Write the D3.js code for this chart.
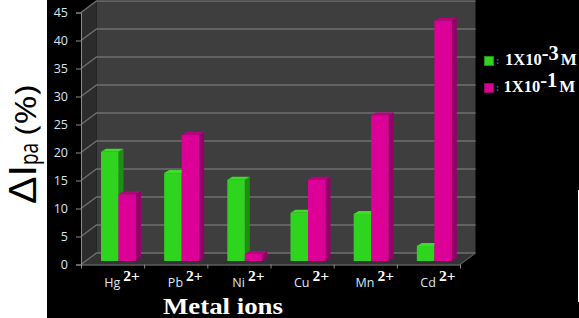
<!DOCTYPE html>
<html><head><meta charset="utf-8">
<script src="https://cdn.jsdelivr.net/npm/d3@7/dist/d3.min.js"></script>
<style>html,body{margin:0;padding:0;background:#000;overflow:hidden}svg{display:block}</style>
</head><body><svg id="c" width="579" height="318"></svg>
<script>
const categories = ["Hg","Pb","Ni","Cu","Mn","Cd"];
const seriesNames = ["1X10-3 M","1X10-1 M"];
const lowConc = [19.5,15.7,14.5,8.6,8.4,2.7];
const highConc = [11.9,22.5,1.25,14.5,26,42.9];
const yTicks = [0,5,10,15,20,25,30,35,40,45];

const F = {x0:81,x1:460,y0:264.5,y1:12.5}, depth = {dx:15.5,dy:-11.5};
const green = {front:"#2fd41e",top:"#3fdc2c",side:"#1f8f14"};
const pink = {front:"#dc0096",top:"#b80080",side:"#94006a"};
const svg = d3.select("#c");
svg.append("rect").attr("width",579).attr("height",318).attr("fill","#000");
svg.append("rect").attr("width",47).attr("height",318).attr("fill","#fff");
svg.append("rect").attr("x",578).attr("y",190).attr("width",1).attr("height",112).attr("fill","#fff");

const y = d3.scaleLinear().domain([0,45]).range([F.y0,F.y1]);
const x = d3.scaleBand().domain(categories).range([F.x0,F.x1]);
const xs = d3.scaleBand().domain([0,1]).range([20,55]);
const xEdge = d3.scaleLinear().domain([0,6]).range([F.x0,F.x1]);
const dx=depth.dx, dy=depth.dy;
const poly = p => p.map(q=>q.join(",")).join(" ");

// walls
svg.append("polygon").attr("points",poly([[F.x0+dx,F.y1+dy],[F.x1+dx,F.y1+dy],[F.x1+dx,F.y0+dy],[F.x0+dx,F.y0+dy]])).attr("fill","#3e3e3e");
svg.append("polygon").attr("points",poly([[F.x0,F.y1],[F.x0+dx,F.y1+dy],[F.x0+dx,F.y0+dy],[F.x0,F.y0]])).attr("fill","#2c2c2c");
svg.append("polygon").attr("points",poly([[F.x0,F.y0],[F.x0+dx,F.y0+dy],[F.x1+dx,F.y0+dy],[F.x1,F.y0]])).attr("fill","#333");

// gridlines
const grid = svg.append("g").attr("fill","none").attr("stroke","#6f6f6f").attr("stroke-width",1.3);
yTicks.forEach(t=>{
  grid.append("polyline").attr("points",poly([[F.x0,y(t)],[F.x0+dx,y(t)+dy],[F.x1+dx,y(t)+dy]]));
});
grid.append("line").attr("x1",F.x1).attr("y1",F.y0).attr("x2",F.x1+dx).attr("y2",F.y0+dy).attr("stroke","#555");

// axes
const yAxis = d3.axisLeft(y).tickValues(yTicks).tickSize(5).tickPadding(8);
const gy = svg.append("g").attr("transform",`translate(${F.x0},0)`).call(yAxis);
gy.selectAll("text").attr("fill","#d4e6f4").style("font","12.5px 'Open Sans'");
gy.selectAll("line,path").attr("stroke","#8a8a8a");
const xAxis = d3.axisBottom(xEdge).ticks(6).tickSize(4).tickFormat("").tickSizeOuter(0);
const gx = svg.append("g").attr("transform",`translate(0,${F.y0})`).call(xAxis);
gx.selectAll("line,path").attr("stroke","#8a8a8a");

// bars
const baseShift = -3.5, bd = 5, bh = -3;
function bar(g,xl,w,v,c){
  const yt = y(v)+baseShift, yb = y(0)+baseShift;
  g.append("polygon").attr("points",poly([[xl+w,yt],[xl+w+bd,yt+bh],[xl+w+bd,yb+bh],[xl+w,yb]])).attr("fill",c.side);
  g.append("polygon").attr("points",poly([[xl,yt],[xl+bd,yt+bh],[xl+w+bd,yt+bh],[xl+w,yt]])).attr("fill",c.top);
  g.append("rect").attr("x",xl).attr("y",yt).attr("width",w).attr("height",yb-yt).attr("fill",c.front);
}
const bars = svg.append("g");
categories.forEach((cat,i)=>{
  bar(bars,x(cat)+xs(0),xs.bandwidth(),lowConc[i],green);
  bar(bars,x(cat)+xs(1),xs.bandwidth(),highConc[i],pink);
});

// category labels
categories.forEach(cat=>{
  const t = svg.append("text").attr("x",x(cat)+x.bandwidth()/2+9.5).attr("y",287).attr("text-anchor","middle").attr("fill","#dde9f2");
  t.append("tspan").text(cat).style("font","12.5px 'Open Sans'");
  t.append("tspan").text("2+").attr("dx",3).attr("dy",-6).attr("fill","#fff").style("font","bold 15.5px 'Liberation Serif'");
});

svg.append("text").attr("x",163).attr("y",314).attr("fill","#fff")
  .attr("textLength",120).attr("lengthAdjust","spacingAndGlyphs")
  .style("font","bold 23.5px 'Liberation Serif'").text("Metal ions");

// legend
[[green,"-3",61,505],[pink,"-1",88,503.5]].forEach(([c,exp,cy,tx])=>{
  svg.append("rect").attr("x",484.5).attr("y",cy-4.5).attr("width",9).attr("height",9).attr("fill",c.front).attr("stroke",c.side);
  svg.append("text").attr("x",496).attr("y",cy+3).attr("fill","#2a6fb0").style("font","bold 10px 'Liberation Serif'").text(":");
  const t = svg.append("text").attr("x",tx).attr("y",cy+4).attr("fill","#fff").style("font","bold 16.5px 'Liberation Serif'");
  t.append("tspan").text("1X10");
  t.append("tspan").text(exp).attr("dy",-5).style("font-size","20.5px");
  t.append("tspan").text("M").attr("dy",5).attr("dx",2).style("font-size","17px");
});

// y title
const title = (txt,by,bx,font,len) => {
  svg.append("text").attr("transform",`translate(${bx},${by}) rotate(-90)`).attr("fill","#000")
    .style("font",font).text(txt)
    .attr("textLength",len).attr("lengthAdjust","spacingAndGlyphs");
};
title("ΔI",204,36,"39px 'Liberation Sans'",39);
title("pa",165,38,"25px 'Open Sans'",22);
title("(%)",135,36,"30px 'Open Sans'",50);
</script></body></html>
